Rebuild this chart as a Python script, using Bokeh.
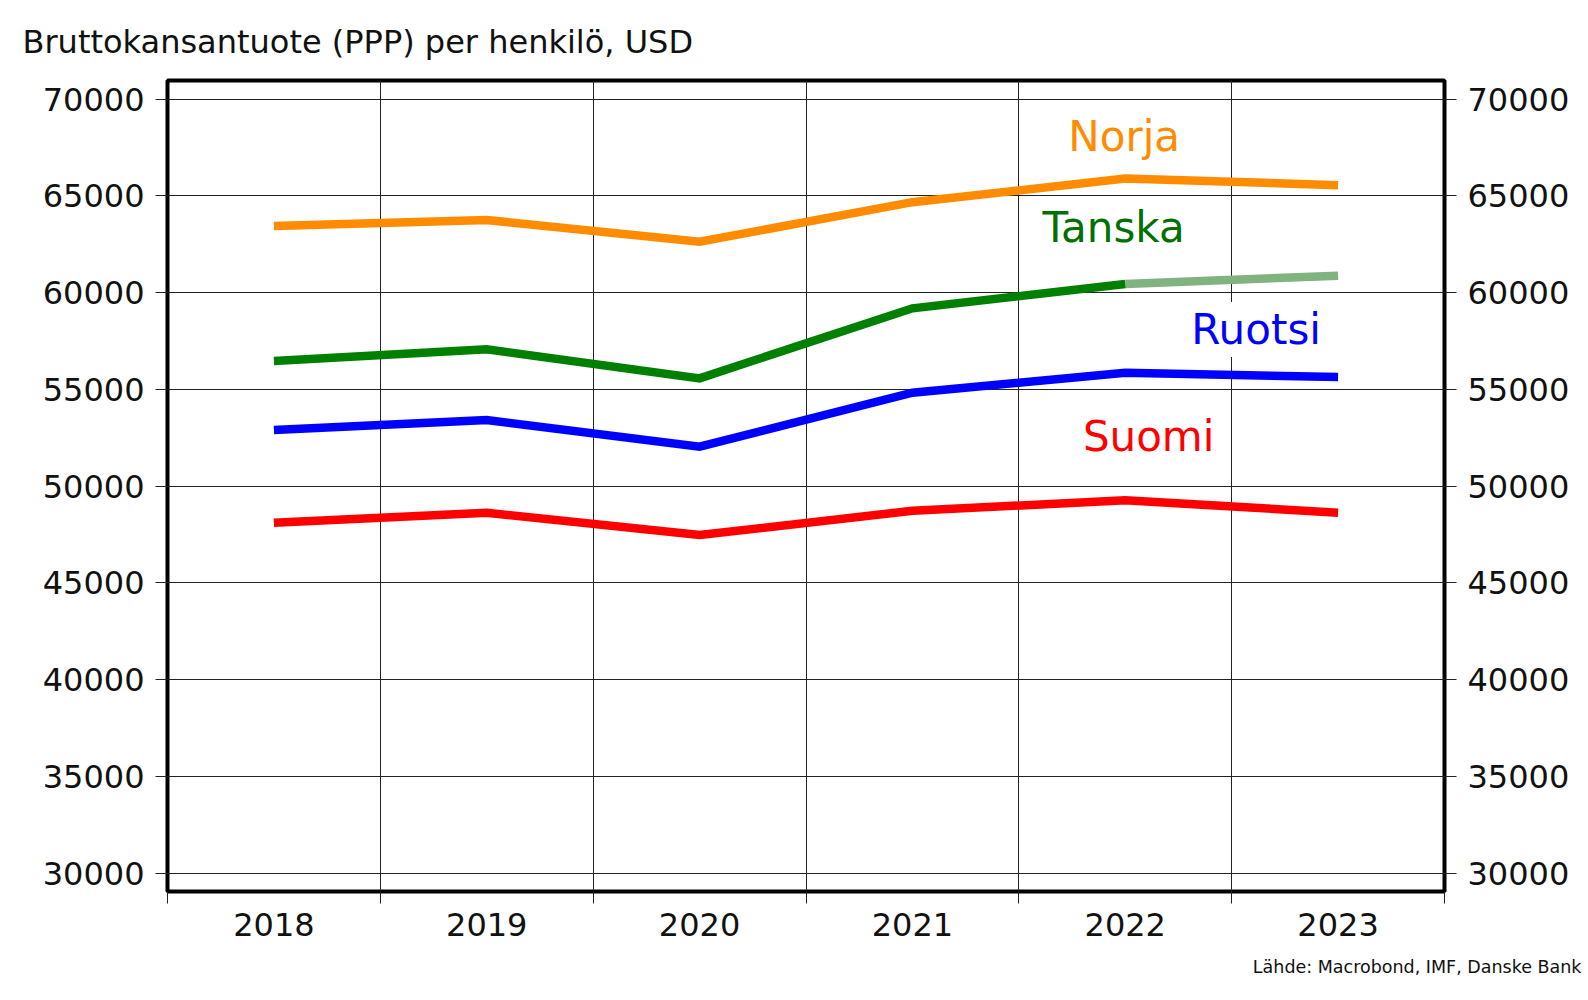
from bokeh.plotting import figure
from bokeh.models import Range1d, FixedTicker, LinearAxis, Label, Title
from bokeh.embed import file_html
from bokeh.resources import INLINE

# ---- data ----
years = [2018, 2019, 2020, 2021, 2022, 2023]
norja = [63450, 63760, 62640, 64680, 65900, 65560]
tanska = [56470, 57075, 55575, 59195, 60450, 60880]
ruotsi = [52900, 53420, 52040, 54830, 55866, 55643]
suomi = [48110, 48627, 47475, 48730, 49270, 48630]
y_ticks = [30000, 35000, 40000, 45000, 50000, 55000, 60000, 65000, 70000]
year_edges = [2017.5, 2018.5, 2019.5, 2020.5, 2021.5, 2022.5, 2023.5]

title_text = "Bruttokansantuote (PPP) per henkilö, USD"
source_text = "Lähde: Macrobond, IMF, Danske Bank"

FONT = "DejaVu Sans"
W, H = 1584, 1000

p = figure(width=W, height=H, output_backend="svg", toolbar_location=None,
           x_range=Range1d(year_edges[0], year_edges[-1]),
           y_range=Range1d(29050, 70970),
           min_border_left=167, min_border_right=W - 1444,
           min_border_top=80, min_border_bottom=H - 891)
p.background_fill_color = "white"
p.border_fill_color = "white"
p.outline_line_color = "black"
p.outline_line_width = 4

# title (above) and source (below)
p.title.text = title_text
p.title.align = "left"
p.title.offset = -145
p.title.standoff = 39
p.title.text_font = FONT
p.title.text_font_size = "32px"
p.title.text_font_style = "normal"
p.title.text_color = "#111111"

src = Title(text=source_text, align="right", offset=-137, standoff=33,
            text_font=FONT, text_font_size="17.5px", text_font_style="normal",
            text_color="#111111")
p.add_layout(src, "below")

# grids
p.xgrid.ticker = FixedTicker(ticks=year_edges[1:-1])
p.ygrid.ticker = FixedTicker(ticks=y_ticks)
for g in (p.xgrid, p.ygrid):
    g.grid_line_color = "#222222"
    g.grid_line_width = 1

# x axis: labels at year centres, ticks at boundaries
xa = p.xaxis[0]
xa.ticker = FixedTicker(ticks=years, minor_ticks=year_edges)
xa.major_tick_line_color = None
xa.major_tick_out = 12
xa.major_tick_in = 0
xa.minor_tick_out = 12
xa.minor_tick_in = 0
xa.minor_tick_line_color = "#222222"
xa.axis_line_color = None
xa.major_label_standoff = 9
xa.major_label_text_font = FONT
xa.major_label_text_font_size = "32px"
xa.major_label_text_color = "#111111"

# y axes, left and right
ya = p.yaxis[0]
ra = LinearAxis()
p.add_layout(ra, "right")
for a in (ya, ra):
    a.ticker = FixedTicker(ticks=y_ticks)
    a.major_tick_out = 12
    a.major_tick_in = 0
    a.minor_tick_line_color = None
    a.major_tick_line_color = "#222222"
    a.axis_line_color = None
    a.major_label_standoff = 11
    a.major_label_text_font = FONT
    a.major_label_text_font_size = "32px"
    a.major_label_text_color = "#111111"

# lines
lw = 8.5
p.line(years, norja, line_color="#ff8c00", line_width=lw, line_join="miter")
p.line(years[4:], tanska[4:], line_color="#80b380", line_width=lw, line_join="miter")
p.line(years[:5], tanska[:5], line_color="#008000", line_width=lw, line_join="miter")
p.line(years, ruotsi, line_color="#0000ff", line_width=lw, line_join="miter")
p.line(years, suomi, line_color="#ff0000", line_width=lw, line_join="miter")

# series labels
def series_label(x, y, text, color):
    lab = Label(x=x, y=y, text=text, text_color=color, text_font=FONT,
                text_font_size="42px", text_align="center",
                text_baseline="alphabetic",
                background_fill_color="white", padding=3)
    p.add_layout(lab)

series_label(2021.995, 68090, "Norja", "#ff8c00")
series_label(2021.945, 63355, "Tanska", "#007000")
series_label(2022.615, 58097, "Ruotsi", "#0000ff")
series_label(2022.11, 52581, "Suomi", "#ff0000")

open("out.html", "w").write(file_html(p, INLINE))
